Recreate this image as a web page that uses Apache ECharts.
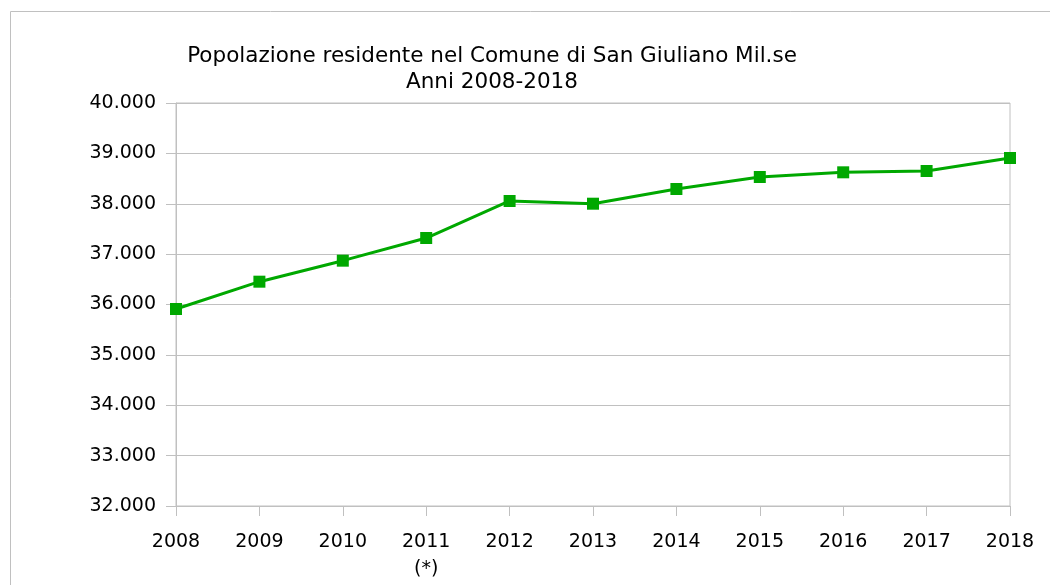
<!DOCTYPE html>
<html>
<head>
<meta charset="utf-8">
<script src="https://cdn.jsdelivr.net/npm/echarts@6/dist/echarts.min.js"></script>
<style>
  html, body { margin: 0; padding: 0; background: #fff; }
  #chart { width: 1050px; height: 585px; }
</style>
</head>
<body>
<div id="chart"></div>
<script>
const years = ['2008', '2009', '2010', '2011\n(*)', '2012', '2013', '2014', '2015', '2016', '2017', '2018'];
const residents = [35911, 36453, 36870, 37320, 38055, 38001, 38293, 38531, 38624, 38650, 38908];
const titleLines = ['Popolazione residente nel Comune di San Giuliano Mil.se', 'Anni 2008-2018'];

const font = 'DejaVu Sans';
const grey = '#c0c0c0';

const chart = echarts.init(document.getElementById('chart'));

chart.setOption({
  animation: false,
  textStyle: { fontFamily: font },
  graphic: [{
    type: 'rect',
    shape: { x: 10.5, y: 11.5, width: 1200, height: 800 },
    style: { fill: 'none', stroke: grey, lineWidth: 1 },
    silent: true
  }],
  title: {
    text: titleLines.join('\n'),
    left: 487,
    top: 38,
    textAlign: 'center',
    textStyle: { fontFamily: font, fontSize: 21.5, fontWeight: 'normal', color: '#000', lineHeight: 26 }
  },
  grid: {
    left: 176, right: 40, top: 103, bottom: 79,
    show: true, borderColor: grey, borderWidth: 1
  },
  xAxis: {
    type: 'category',
    data: years,
    boundaryGap: false,
    axisLine: { lineStyle: { color: grey } },
    axisTick: { show: true, length: 10, lineStyle: { color: grey } },
    axisLabel: { color: '#000', fontSize: 19, margin: 23, lineHeight: 27, interval: 0 },
    splitLine: { show: false }
  },
  yAxis: {
    type: 'value',
    min: 32000, max: 40000, interval: 1000,
    axisLine: { show: true, lineStyle: { color: grey } },
    axisTick: { show: true, length: 10, lineStyle: { color: grey } },
    axisLabel: {
      color: '#000', fontSize: 19, margin: 20,
      formatter: v => String(v).replace(/\B(?=(\d{3})+(?!\d))/g, '.')
    },
    splitLine: { lineStyle: { color: grey } }
  },
  series: [{
    type: 'line',
    data: residents,
    symbol: 'rect',
    symbolSize: 12,
    lineStyle: { color: '#00a800', width: 3 },
    itemStyle: { color: '#00a800' }
  }]
});
</script>
</body>
</html>
